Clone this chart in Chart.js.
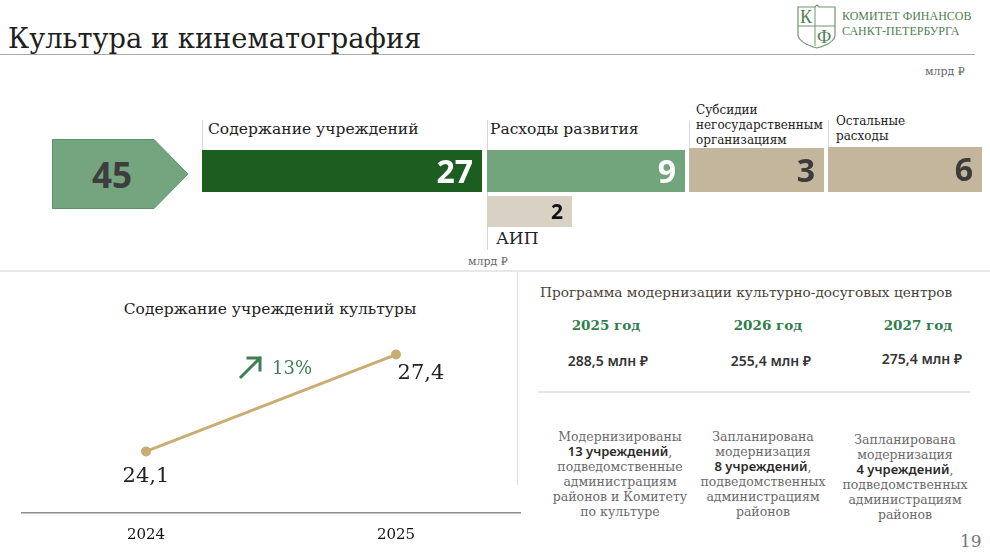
<!DOCTYPE html>
<html lang="ru">
<head>
<meta charset="utf-8">
<title>Культура и кинематография</title>
<script src="https://cdn.jsdelivr.net/npm/chart.js@4.4.1/dist/chart.umd.min.js"></script>
<style>
  html, body { margin: 0; padding: 0; background: #fff; }
  body { width: 990px; height: 557px; position: relative; overflow: hidden;
         font-family: "DejaVu Serif", serif; color: #222; }
  .abs { position: absolute; }
  .ln  { line-height: 1; white-space: nowrap; }
  canvas { display: block; }

  #title { left: 8px; top: 25px; font-size: 27.3px; color: #1e1e1e; }
  #title-rule { left: 0; top: 54px; width: 975px; height: 1px; background: #a9a9a9; }
  .logo-txt { left: 842px; top: 9px; font-family: "Liberation Serif", serif; font-size: 12px;
              line-height: 15px; color: #4f7f4f; white-space: nowrap; }
  .unit { font-size: 11px; color: #666; }

  .blk-name { font-size: 15.5px; color: #222; }
  .blk-name.small { font-size: 12px; line-height: 15px; white-space: pre-line; }
  .lead { width: 1px; background: #d7d7d7; }

  #total { left: 52px; top: 139px; width: 137px; height: 70px; }
  #total-txt { left: 52px; top: 139px; width: 120px; height: 70px; display: flex;
               align-items: center; justify-content: center;
               font-family: "Open Sans", sans-serif; font-weight: 700; font-size: 35px; color: #3d3d3d; }

  #hsep { left: 0; top: 270px; width: 990px; height: 2px; background: #e8e8e8; }
  #vsep { left: 517px; top: 271px; width: 1px; height: 214px; background: #e2e2e2; }

  #upkeep-title { left: 20px; top: 302px; width: 500px; text-align: center; font-size: 15.5px; }
  #upkeep-box { left: 21px; top: 290px; }

  #prog-title { left: 540px; top: 286px; font-size: 13.7px; color: #4a4237; }
  .prog-year { width: 150px; text-align: center; top: 319px; font-size: 13.5px; font-weight: 700; color: #2e7d4c; }
  .prog-sum  { width: 150px; text-align: center; top: 354px; font-family: "Noto Sans", sans-serif;
               font-size: 14px; font-weight: 600; color: #353535; }
  #prog-rule { left: 538px; top: 391px; width: 432px; height: 2px; background: #e6e6e6; }
  .prog-note { width: 160px; text-align: center; font-size: 12.5px; line-height: 15px; color: #6b6b6b; }
  .prog-note b { font-family: "Noto Sans", sans-serif; font-weight: 600; font-size: 13px; color: #2b2b2b; }

  #page-no { left: 960px; top: 533px; font-size: 17px; color: #777; }
</style>
</head>
<body>

<div id="title" class="abs ln">Культура и кинематография</div>
<div id="title-rule" class="abs"></div>

<svg class="abs" style="left:796px; top:4px" width="42" height="46" viewBox="0 0 42 46">
  <path d="M2,3 L19,3 L21,1 L23,3 L39,3 L39,31 Q39,39 21,44 Q3,39 2,31 Z"
        fill="none" stroke="#6f976f" stroke-width="1.2"/>
  <line x1="19" y1="3" x2="19" y2="42" stroke="#6f976f" stroke-width="1"/>
  <line x1="2" y1="22" x2="39" y2="22" stroke="#6f976f" stroke-width="1"/>
  <text x="4" y="19" font-family="Liberation Serif" font-size="18" fill="#4f7f4f">К</text>
  <text x="21" y="39" font-family="Liberation Serif" font-size="18" fill="#4f7f4f">Ф</text>
</svg>
<div class="abs logo-txt">КОМИТЕТ ФИНАНСОВ<br>САНКТ-ПЕТЕРБУРГА</div>
<div class="abs ln unit" style="left:925px; top:66px">млрд ₽</div>

<!-- total arrow -->
<svg id="total" class="abs" viewBox="0 0 137 70">
  <polygon points="0.5,0.5 102,0.5 136,35 102,69.5 0.5,69.5" fill="#74a57e" stroke="#5f9169" stroke-width="1"/>
</svg>
<div id="total-txt" class="abs"></div>

<!-- block labels and leader lines -->
<div class="abs lead" style="left:202px; top:120px; height:30px"></div>
<div class="abs lead" style="left:487px; top:120px; height:130px"></div>
<div class="abs lead" style="left:689px; top:121px; height:26px"></div>
<div class="abs lead" style="left:828px; top:120px; height:27px"></div>

<div id="name0" class="abs ln blk-name" style="left:208px; top:122px"></div>
<div id="name1" class="abs ln blk-name" style="left:490px; top:122px"></div>
<div id="name2" class="abs blk-name small" style="left:696px; top:103px"></div>
<div id="name3" class="abs blk-name small" style="left:836px; top:114px"></div>
<div id="name-aip" class="abs ln blk-name" style="left:496px; top:230px; font-size:17px"></div>
<div class="abs ln unit" style="left:468px; top:256px">млрд ₽</div>

<canvas id="blk0" class="abs" style="left:202px; top:150px" width="280" height="42"></canvas>
<canvas id="blk1" class="abs" style="left:487px; top:150px" width="198" height="42"></canvas>
<canvas id="blk2" class="abs" style="left:689px; top:148px" width="135" height="44"></canvas>
<canvas id="blk3" class="abs" style="left:828px; top:147px" width="154" height="45"></canvas>
<canvas id="blk-aip" class="abs" style="left:487px; top:196px" width="85" height="31"></canvas>

<div id="hsep" class="abs"></div>
<div id="vsep" class="abs"></div>

<!-- bottom left: line chart -->
<div id="upkeep-title" class="abs ln">Содержание учреждений культуры</div>
<div id="upkeep-box" class="abs"><canvas id="upkeep-chart" width="500" height="267"></canvas></div>

<!-- bottom right: programme -->
<div id="prog-title" class="abs ln">Программа модернизации культурно-досуговых центров</div>
<div id="prog-year0" class="abs ln prog-year" style="left:531px"></div>
<div id="prog-year1" class="abs ln prog-year" style="left:693px"></div>
<div id="prog-year2" class="abs ln prog-year" style="left:843px"></div>
<div id="prog-sum0" class="abs ln prog-sum" style="left:533px"></div>
<div id="prog-sum1" class="abs ln prog-sum" style="left:696px"></div>
<div id="prog-sum2" class="abs ln prog-sum" style="left:847px; top:352px"></div>
<div id="prog-rule" class="abs"></div>
<div id="prog-note0" class="abs prog-note" style="left:540px; top:429px"></div>
<div id="prog-note1" class="abs prog-note" style="left:683px; top:429px"></div>
<div id="prog-note2" class="abs prog-note" style="left:825px; top:432px"></div>

<div id="page-no" class="abs ln">19</div>

<script>
// ---- data ----
const blockNames   = ['Содержание учреждений', 'Расходы развития',
                      'Субсидии\nнегосударственным\nорганизациям', 'Остальные\nрасходы'];
const blockValues  = [27, 9, 3, 6];
const aipName      = 'АИП';
const aipValue     = 2;

const upkeepYears  = ['2024', '2025'];
const upkeepValues = [24.1, 27.4];
const growthLabel  = '13%';

const progYears    = ['2025 год', '2026 год', '2027 год'];
const progSums     = [288.5, 255.4, 275.4];
const progCounts   = [13, 8, 4];
const progBefore   = ['Модернизированы', 'Запланирована<br>модернизация', 'Запланирована<br>модернизация'];
const progAfter    = ['подведомственные<br>администрациям<br>районов и Комитету<br>по культуре',
                      'подведомственных<br>администрациям<br>районов',
                      'подведомственных<br>администрациям<br>районов'];

// ---- helpers ----
const fmt = (v) => String(v).replace('.', ',');

// value written at the right end of a block bar
const valueLabel = {
    id: 'valueLabel',
    afterDatasetsDraw(chart, args, opts) {
        const ctx = chart.ctx;
        const bar = chart.getDatasetMeta(0).data[0];
        const v = chart.data.datasets[0].data[0];
        ctx.save();
        ctx.font = '700 ' + opts.size + 'px "Open Sans", sans-serif';
        ctx.fillStyle = opts.color;
        ctx.textAlign = 'right';
        ctx.textBaseline = 'alphabetic';
        ctx.fillText(fmt(v), bar.x - 9, bar.y + opts.size * 0.36);
        ctx.restore();
    }
};

drawBlock = (id, value, color, textColor, size) => {
    new Chart(document.getElementById(id), {
        type: 'bar',
        data: {
            labels: [''],
            datasets: [{
                data: [value],
                backgroundColor: color,
                borderWidth: 0,
                barPercentage: 1,
                categoryPercentage: 1
            }]
        },
        options: {
            indexAxis: 'y',
            responsive: false,
            animation: false,
            layout: { padding: 0, autoPadding: false },
            plugins: {
                legend: { display: false },
                tooltip: { enabled: false },
                valueLabel: { color: textColor, size: size }
            },
            scales: {
                x: { display: false, min: 0, max: value },
                y: { display: false }
            }
        },
        plugins: [valueLabel]
    });
}

// ---- top: structure of spending ----
const blockColors = ['#1b5e20', '#73a57d', '#c3b69c', '#c3b69c'];
const blockText   = ['#ffffff', '#ffffff', '#3b3b3b', '#3b3b3b'];

blockValues.forEach((v, i) => {
    document.getElementById('name' + i).textContent = blockNames[i];
    drawBlock('blk' + i, v, blockColors[i], blockText[i], 32);
});
document.getElementById('name-aip').textContent = aipName;
drawBlock('blk-aip', aipValue, '#d9d1c3', '#111111', 21);
document.getElementById('total-txt').textContent = blockValues.reduce((a, b) => a + b, 0);

// ---- bottom left: upkeep line ----
const pointLabels = {
    id: 'pointLabels',
    afterDatasetsDraw(chart) {
        const ctx = chart.ctx;
        const pts = chart.getDatasetMeta(0).data;
        ctx.save();
        ctx.font = '21px "DejaVu Serif", serif';
        ctx.fillStyle = '#222';
        ctx.textAlign = 'center';
        ctx.fillText(fmt(upkeepValues[0]), pts[0].x, pts[0].y + 31);
        ctx.fillText(fmt(upkeepValues[1]), pts[1].x + 25, pts[1].y + 24);

        // growth mark near the middle of the segment
        const mx = (pts[0].x + pts[1].x) / 2,
              my = (pts[0].y + pts[1].y) / 2;
        ctx.strokeStyle = '#3f7d55';
        ctx.lineWidth = 3;
        ctx.lineCap = 'square';
        ctx.beginPath();
        ctx.moveTo(mx - 30, my - 26);
        ctx.lineTo(mx - 11, my - 45);
        ctx.moveTo(mx - 23, my - 45);
        ctx.lineTo(mx - 11, my - 45);
        ctx.lineTo(mx - 11, my - 33);
        ctx.stroke();

        ctx.font = '18px "DejaVu Serif", serif';
        ctx.fillStyle = '#3f7d55';
        ctx.textAlign = 'left';
        ctx.fillText(growthLabel, mx + 1, my - 29);
        ctx.restore();
    }
};

new Chart(document.getElementById('upkeep-chart'), {
    type: 'line',
    data: {
        labels: upkeepYears,
        datasets: [{
            data: upkeepValues,
            borderColor: '#c9ae74',
            backgroundColor: '#c9ae74',
            borderWidth: 3,
            pointRadius: 3.5,
            pointHoverRadius: 3.5,
            tension: 0
        }]
    },
    options: {
        responsive: false,
        animation: false,
        layout: { padding: 0, autoPadding: false },
        plugins: {
            legend: { display: false },
            tooltip: { enabled: false }
        },
        scales: {
            x: {
                offset: true,
                grid: { display: false, drawTicks: false },
                border: { display: true, color: '#8d8d8d', width: 1.5 },
                ticks: { color: '#111', padding: 13, font: { family: 'DejaVu Serif', size: 15 } }
            },
            y: { display: false, min: 22, max: 29.6 }
        }
    },
    plugins: [pointLabels]
});

// ---- bottom right: programme ----
progYears.forEach((y, i) => {
    document.getElementById('prog-year' + i).textContent = y;
    document.getElementById('prog-sum' + i).textContent = fmt(progSums[i].toFixed(1)) + ' млн ₽';
    document.getElementById('prog-note' + i).innerHTML =
        progBefore[i] + '<br><b>' + progCounts[i] + ' учреждений</b>,<br>' + progAfter[i];
});
</script>
</body>
</html>
